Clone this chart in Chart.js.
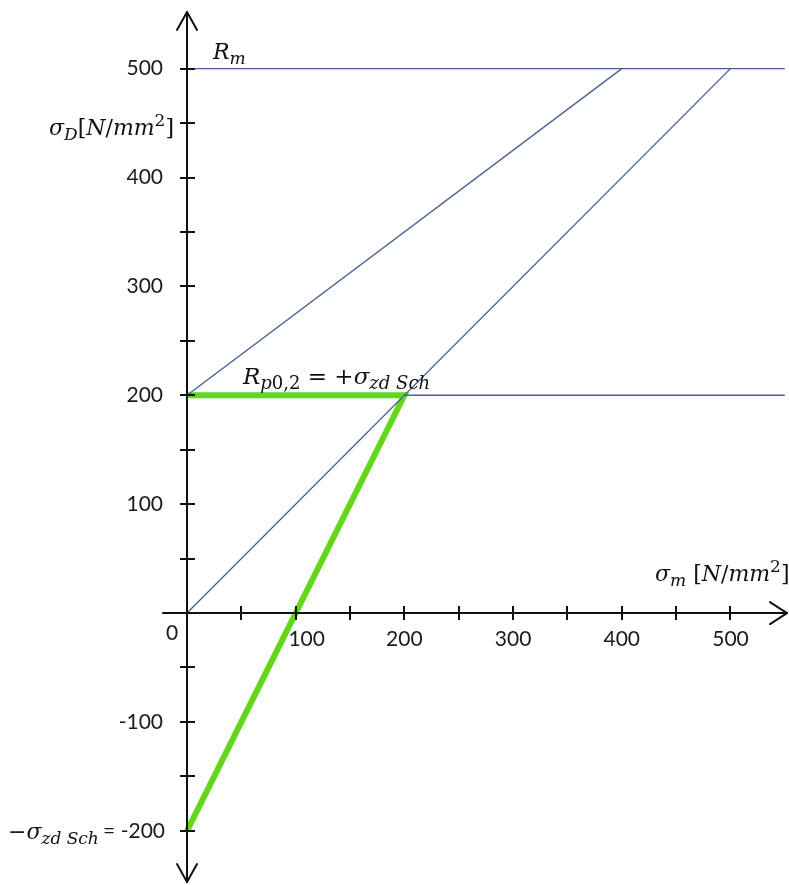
<!DOCTYPE html>
<html>
<head>
<meta charset="utf-8">
<script src="https://cdn.jsdelivr.net/npm/chart.js@4.4.1/dist/chart.umd.min.js"></script>
<style>
  html, body { margin: 0; padding: 0; background: #ffffff; }
  #wrap { width: 789px; height: 885px; }
</style>
</head>
<body>
<div id="wrap"><canvas id="c" width="789" height="885"></canvas></div>
<script>
// ---- data ----
const xRange = [0, 552];
const yRange = [-247, 552];
const xTickValues = [50, 100, 150, 200, 250, 300, 350, 400, 450, 500];
const xTickLabels = [100, 200, 300, 400, 500];
const yTickValues = [-200, -150, -100, -50, 50, 100, 150, 200, 250, 300, 350, 400, 450, 500];
const yTickLabels = [500, 400, 300, 200, 100, -100];

const rmLineX = [0, 550];
const rmLineY = [500, 500];
const yieldLineX = [200, 550];
const yieldLineY = [200, 200];
const upperLineX = [0, 400];
const upperLineY = [200, 500];
const lowerLineX = [0, 500];
const lowerLineY = [0, 500];
const greenX = [0, 200, 0];
const greenY = [200, 200, -200];

function pts(xs, ys) { return xs.map((x, i) => ({ x: x, y: ys[i] })); }

const BLUE = '#4a6292';
const GREEN = '#63d81b';
const NUM_FONT = '21px Lato, "Open Sans", sans-serif';
const M = 'italic 22px "DejaVu Serif", serif';
const MU = '22px "DejaVu Serif", serif';
const S = 'italic 17px "DejaVu Serif", serif';
const SU = '17px "DejaVu Serif", serif';
const M23 = 'italic 23px "DejaVu Serif", serif';
const MU23 = '23px "DejaVu Serif", serif';
const S18 = 'italic 18px "DejaVu Serif", serif';
const SU18 = '18px "DejaVu Serif", serif';

function rich(ctx, x, y, segs, align) {
  let w = 0;
  segs.forEach(s => { ctx.font = s.f; w += ctx.measureText(s.t).width; });
  let cx = align === 'right' ? x - w : x;
  ctx.textAlign = 'left';
  ctx.textBaseline = 'alphabetic';
  segs.forEach(s => {
    ctx.font = s.f;
    ctx.fillText(s.t, cx, y + (s.dy || 0));
    cx += ctx.measureText(s.t).width;
  });
}

const axesPlugin = {
  id: 'axesPlugin',
  afterDatasetsDraw(chart) {
    const ctx = chart.ctx;
    const xs = chart.scales.x, ys = chart.scales.y;
    const X0 = xs.getPixelForValue(0), Y0 = ys.getPixelForValue(0);
    const top = ys.getPixelForValue(yRange[1]);
    const bottom = ys.getPixelForValue(yRange[0]);
    const right = xs.getPixelForValue(xRange[1]);
    ctx.save();
    ctx.strokeStyle = '#111';
    ctx.lineWidth = 2;
    ctx.lineCap = 'round';
    ctx.lineJoin = 'round';
    // axis lines
    ctx.beginPath();
    ctx.moveTo(X0, top); ctx.lineTo(X0, bottom);
    ctx.moveTo(X0 - 24, Y0); ctx.lineTo(right, Y0);
    ctx.stroke();
    // arrows
    ctx.beginPath();
    ctx.moveTo(X0 - 10, top + 18); ctx.lineTo(X0, top); ctx.lineTo(X0 + 10, top + 18);
    ctx.moveTo(X0 - 10, bottom - 18); ctx.lineTo(X0, bottom); ctx.lineTo(X0 + 10, bottom - 18);
    ctx.moveTo(right - 17, Y0 - 11); ctx.lineTo(right, Y0); ctx.lineTo(right - 17, Y0 + 11);
    ctx.stroke();
    // ticks
    ctx.lineCap = 'butt';
    ctx.beginPath();
    xTickValues.forEach(v => {
      const px = Math.round(xs.getPixelForValue(v));
      ctx.moveTo(px, Y0 - 7); ctx.lineTo(px, Y0 + 7);
    });
    yTickValues.forEach(v => {
      const py = Math.round(ys.getPixelForValue(v));
      ctx.moveTo(X0 - 7, py); ctx.lineTo(X0 + 8, py);
    });
    ctx.stroke();
    // numeric labels
    ctx.fillStyle = '#1a1a1a';
    ctx.font = NUM_FONT;
    ctx.textBaseline = 'middle';
    ctx.textAlign = 'center';
    xTickLabels.forEach(v => {
      const off = v === 100 ? 11 : 0;
      ctx.fillText(String(v), xs.getPixelForValue(v) + off, Y0 + 26);
    });
    ctx.textAlign = 'right';
    yTickLabels.forEach(v => {
      ctx.fillText(String(v), X0 - 24, ys.getPixelForValue(v));
    });
    ctx.textAlign = 'center';
    ctx.fillText('0', X0 - 15, Y0 + 20);
    // math labels
    ctx.fillStyle = '#111';
    rich(ctx, 213, 59, [{ t: 'R', f: M }, { t: 'm', f: S, dy: 5 }]);
    rich(ctx, 174, 135, [
      { t: 'σ', f: M }, { t: 'D', f: S, dy: 5 }, { t: '[', f: MU }, { t: 'N', f: M },
      { t: '/', f: MU }, { t: 'mm', f: M }, { t: '2', f: SU, dy: -9 }, { t: ']', f: MU }
    ], 'right');
    rich(ctx, 655, 581, [
      { t: 'σ', f: M }, { t: 'm', f: S, dy: 5 }, { t: ' [', f: MU }, { t: 'N', f: M },
      { t: '/', f: MU }, { t: 'mm', f: M }, { t: '2', f: SU, dy: -9 }, { t: ']', f: MU }
    ]);
    rich(ctx, 243, 384, [
      { t: 'R', f: M23 }, { t: 'p', f: S18, dy: 5 }, { t: '0,2', f: SU18, dy: 5 },
      { t: ' = +', f: MU23 }, { t: 'σ', f: M23 }, { t: 'zd Sch', f: S18, dy: 5 }
    ]);
    const pyM200 = ys.getPixelForValue(-200);
    rich(ctx, 8, pyM200 + 8, [
      { t: '−σ', f: M }, { t: 'zd Sch', f: S, dy: 5 }
    ]);
    ctx.font = NUM_FONT;
    ctx.textAlign = 'right';
    ctx.textBaseline = 'middle';
    ctx.fillStyle = '#1a1a1a';
    ctx.fillText('= -200', X0 - 22, pyM200);
    ctx.restore();
  }
};

function ds(xs, ys, color, width) {
  return {
    data: pts(xs, ys),
    showLine: true,
    borderColor: color,
    borderWidth: width,
    pointRadius: 0,
    pointHoverRadius: 0,
    fill: false,
    tension: 0,
    clip: false
  };
}

new Chart(document.getElementById('c'), {
  type: 'scatter',
  data: {
    datasets: [
      ds(rmLineX, rmLineY, BLUE, 1.4),
      ds(yieldLineX, yieldLineY, BLUE, 1.4),
      ds(upperLineX, upperLineY, BLUE, 1.4),
      ds(lowerLineX, lowerLineY, BLUE, 1.4),
      ds(greenX, greenY, GREEN, 6)
    ]
  },
  options: {
    responsive: false,
    animation: false,
    events: [],
    layout: { padding: { left: 187, right: 2, top: 12, bottom: 3 } },
    plugins: { legend: { display: false }, tooltip: { enabled: false } },
    scales: {
      x: { type: 'linear', display: false, min: xRange[0], max: xRange[1] },
      y: { type: 'linear', display: false, min: yRange[0], max: yRange[1] }
    }
  },
  plugins: [axesPlugin]
});
</script>
</body>
</html>
